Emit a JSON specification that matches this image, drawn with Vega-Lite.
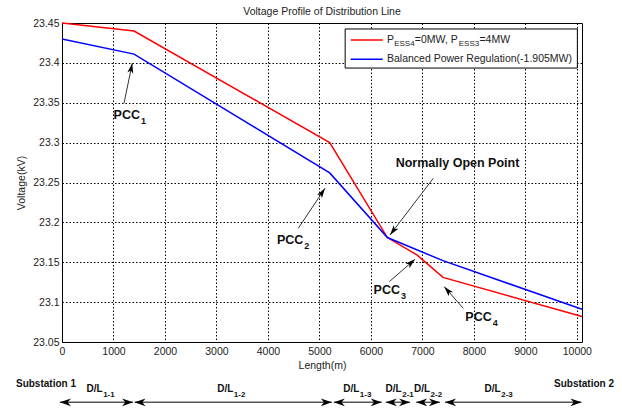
{
  "$schema": "https://vega.github.io/schema/vega-lite/v6.json",
  "width": 520,
  "height": 319,
  "autosize": {"type": "none"},
  "padding": {"left": 62, "top": 23, "right": 40, "bottom": 70},
  "background": "white",
  "title": {"text": "Voltage Profile of Distribution Line", "fontSize": 10.5, "fontWeight": "normal", "color": "#222", "offset": 1, "anchor": "middle"},
  "config": {
    "font": "Liberation Sans",
    "view": {"stroke": "black", "strokeWidth": 1},
    "axis": {
      "grid": true, "gridColor": "black", "gridOpacity": 1, "gridWidth": 1, "gridDash": [1.5, 2],
      "ticks": false, "domain": false,
      "labelFontSize": 10.5, "labelColor": "#222", "labelFlush": false, "labelOverlap": false,
      "titleFontSize": 10.5, "titleFontWeight": "normal", "titleColor": "#222"
    }
  },
  "datasets": {
    "profile": [
      {"series": "PESS4=0MW, PESS3=4MW", "length": 0, "voltage": 23.45},
      {"series": "PESS4=0MW, PESS3=4MW", "length": 1400, "voltage": 23.44},
      {"series": "PESS4=0MW, PESS3=4MW", "length": 5200, "voltage": 23.30},
      {"series": "PESS4=0MW, PESS3=4MW", "length": 6320, "voltage": 23.181},
      {"series": "PESS4=0MW, PESS3=4MW", "length": 6900, "voltage": 23.159},
      {"series": "PESS4=0MW, PESS3=4MW", "length": 7400, "voltage": 23.131},
      {"series": "PESS4=0MW, PESS3=4MW", "length": 10100, "voltage": 23.082},
      {"series": "Balanced Power Regulation(-1.905MW)", "length": 0, "voltage": 23.43},
      {"series": "Balanced Power Regulation(-1.905MW)", "length": 1400, "voltage": 23.411},
      {"series": "Balanced Power Regulation(-1.905MW)", "length": 5200, "voltage": 23.262},
      {"series": "Balanced Power Regulation(-1.905MW)", "length": 6320, "voltage": 23.181},
      {"series": "Balanced Power Regulation(-1.905MW)", "length": 7400, "voltage": 23.152},
      {"series": "Balanced Power Regulation(-1.905MW)", "length": 10100, "voltage": 23.091}
    ],
    "pcc": [
      {"label": "PCC", "sub": "1", "x": 1515, "y": 23.3346},
      {"label": "PCC", "sub": "2", "x": 4687, "y": 23.1779},
      {"label": "PCC", "sub": "3", "x": 6565, "y": 23.1152},
      {"label": "PCC", "sub": "4", "x": 8346, "y": 23.0817}
    ],
    "arrows": [
      {"name": "PCC1", "x1": 1204, "y1": 23.3493, "x2": 1365, "y2": 23.3995},
      {"name": "PCC2", "x1": 4590, "y1": 23.1926, "x2": 5108, "y2": 23.2427},
      {"name": "NOP", "x1": 7212, "y1": 23.2553, "x2": 6371, "y2": 23.1842},
      {"name": "PCC3", "x1": 6357, "y1": 23.1256, "x2": 6856, "y2": 23.1537},
      {"name": "PCC4", "x1": 7794, "y1": 23.0922, "x2": 7425, "y2": 23.1193}
    ],
    "callout": [
      {"text": "Normally Open Point", "x": 7682, "y": 23.274}
    ],
    "sections": [
      {"label": "D/L", "sub": "1-1", "start": -40, "end": 1380, "lx": 790},
      {"label": "D/L", "sub": "1-2", "start": 1410, "end": 5240, "lx": 3327},
      {"label": "D/L", "sub": "1-3", "start": 5280, "end": 6210, "lx": 5774},
      {"label": "D/L", "sub": "2-1", "start": 6290, "end": 6760, "lx": 6598},
      {"label": "D/L", "sub": "2-2", "start": 6880, "end": 7340, "lx": 7148},
      {"label": "D/L", "sub": "2-3", "start": 7440, "end": 10090, "lx": 8521}
    ],
    "stations": [
      {"text": "Substation 1", "x": -311},
      {"text": "Substation 2", "x": 10139}
    ]
  },
  "layer": [
    {
      "data": {"name": "profile"},
      "mark": {"type": "line", "strokeWidth": 1.5, "clip": false},
      "encoding": {
        "x": {"field": "length", "type": "quantitative", "scale": {"domain": [0, 10100], "nice": false, "zero": false},
              "axis": {"title": "Length(m)", "values": [0, 1000, 2000, 3000, 4000, 5000, 6000, 7000, 8000, 9000, 10000], "tickCount": 30, "format": "d", "labelPadding": 4, "titlePadding": 4}},
        "y": {"field": "voltage", "type": "quantitative", "scale": {"domain": [23.05, 23.45], "nice": false, "zero": false},
              "axis": {"title": "Voltage(kV)", "values": [23.05, 23.1, 23.15, 23.2, 23.25, 23.3, 23.35, 23.4, 23.45], "tickCount": 30, "format": ".2~f", "labelPadding": 3, "titlePadding": 6}},
        "color": {"field": "series", "type": "nominal", "sort": null,
                  "scale": {"domain": ["PESS4=0MW, PESS3=4MW", "Balanced Power Regulation(-1.905MW)"], "range": ["#ff0000", "#0000ff"]}, "legend": null},
        "order": {"field": "length", "type": "quantitative"}
      }
    },
    {
      "data": {"name": "arrows"},
      "mark": {"type": "rule", "color": "#333", "strokeWidth": 1},
      "encoding": {
        "x": {"field": "x1", "type": "quantitative"},
        "y": {"field": "y1", "type": "quantitative"},
        "x2": {"field": "x2"},
        "y2": {"field": "y2"}
      }
    },
    {
      "data": {"name": "arrows"},
      "transform": [{"filter": "datum.name == 'PCC1'"}],
      "mark": {"type": "point", "shape": "M0,0L-0.3,1L0,0.75L0.3,1Z", "size": 400, "filled": true, "color": "black", "opacity": 1, "angle": 11.7},
      "encoding": {"x": {"field": "x2", "type": "quantitative"}, "y": {"field": "y2", "type": "quantitative"}}
    },
    {
      "data": {"name": "arrows"},
      "transform": [{"filter": "datum.name == 'PCC2'"}],
      "mark": {"type": "point", "shape": "M0,0L-0.3,1L0,0.75L0.3,1Z", "size": 400, "filled": true, "color": "black", "opacity": 1, "angle": 33.7},
      "encoding": {"x": {"field": "x2", "type": "quantitative"}, "y": {"field": "y2", "type": "quantitative"}}
    },
    {
      "data": {"name": "arrows"},
      "transform": [{"filter": "datum.name == 'NOP'"}],
      "mark": {"type": "point", "shape": "M0,0L-0.3,1L0,0.75L0.3,1Z", "size": 400, "filled": true, "color": "black", "opacity": 1, "angle": 217.4},
      "encoding": {"x": {"field": "x2", "type": "quantitative"}, "y": {"field": "y2", "type": "quantitative"}}
    },
    {
      "data": {"name": "arrows"},
      "transform": [{"filter": "datum.name == 'PCC3'"}],
      "mark": {"type": "point", "shape": "M0,0L-0.3,1L0,0.75L0.3,1Z", "size": 400, "filled": true, "color": "black", "opacity": 1, "angle": 48.9},
      "encoding": {"x": {"field": "x2", "type": "quantitative"}, "y": {"field": "y2", "type": "quantitative"}}
    },
    {
      "data": {"name": "arrows"},
      "transform": [{"filter": "datum.name == 'PCC4'"}],
      "mark": {"type": "point", "shape": "M0,0L-0.3,1L0,0.75L0.3,1Z", "size": 400, "filled": true, "color": "black", "opacity": 1, "angle": 318.7},
      "encoding": {"x": {"field": "x2", "type": "quantitative"}, "y": {"field": "y2", "type": "quantitative"}}
    },
    {
      "data": {"name": "pcc"},
      "mark": {"type": "text", "align": "right", "baseline": "middle", "fontSize": 12.5, "fontWeight": "bold", "color": "#111"},
      "encoding": {"x": {"field": "x", "type": "quantitative"}, "y": {"field": "y", "type": "quantitative"}, "text": {"field": "label"}}
    },
    {
      "data": {"name": "pcc"},
      "mark": {"type": "text", "align": "left", "baseline": "middle", "fontSize": 9, "fontWeight": "bold", "color": "#111", "dx": 1, "dy": 6},
      "encoding": {"x": {"field": "x", "type": "quantitative"}, "y": {"field": "y", "type": "quantitative"}, "text": {"field": "sub"}}
    },
    {
      "data": {"name": "callout"},
      "mark": {"type": "text", "align": "center", "baseline": "middle", "fontSize": 12.5, "fontWeight": "bold", "color": "#111"},
      "encoding": {"x": {"field": "x", "type": "quantitative"}, "y": {"field": "y", "type": "quantitative"}, "text": {"field": "text"}}
    },
    {
      "data": {"values": [{"item": "legend box"}]},
      "mark": {"type": "rect", "fill": "white", "stroke": "black", "strokeWidth": 1},
      "encoding": {
        "x": {"datum": 5500, "type": "quantitative"}, "x2": {"datum": 10010},
        "y": {"datum": 23.4425, "type": "quantitative"}, "y2": {"datum": 23.3935}
      }
    },
    {
      "data": {"values": [{"item": "red sample"}]},
      "mark": {"type": "rule", "color": "#ff0000", "strokeWidth": 1.5},
      "encoding": {"x": {"datum": 5607, "type": "quantitative"}, "x2": {"datum": 6228}, "y": {"datum": 23.4287, "type": "quantitative"}}
    },
    {
      "data": {"values": [{"item": "blue sample"}]},
      "mark": {"type": "rule", "color": "#0000ff", "strokeWidth": 1.5},
      "encoding": {"x": {"datum": 5607, "type": "quantitative"}, "x2": {"datum": 6228}, "y": {"datum": 23.4045, "type": "quantitative"}}
    },
    {
      "data": {"values": [{"t": "P"}]},
      "mark": {"type": "text", "align": "left", "baseline": "middle", "fontSize": 10.5, "color": "#222"},
      "encoding": {"x": {"datum": 6312, "type": "quantitative"}, "y": {"datum": 23.4287, "type": "quantitative"}, "text": {"field": "t"}}
    },
    {
      "data": {"values": [{"t": "ESS4"}]},
      "mark": {"type": "text", "align": "left", "baseline": "middle", "fontSize": 8, "color": "#222", "dx": 7.2, "dy": 4.5},
      "encoding": {"x": {"datum": 6312, "type": "quantitative"}, "y": {"datum": 23.4287, "type": "quantitative"}, "text": {"field": "t"}}
    },
    {
      "data": {"values": [{"t": "=0MW, P"}]},
      "mark": {"type": "text", "align": "left", "baseline": "middle", "fontSize": 10.5, "color": "#222", "dx": 27.9},
      "encoding": {"x": {"datum": 6312, "type": "quantitative"}, "y": {"datum": 23.4287, "type": "quantitative"}, "text": {"field": "t"}}
    },
    {
      "data": {"values": [{"t": "ESS3"}]},
      "mark": {"type": "text", "align": "left", "baseline": "middle", "fontSize": 8, "color": "#222", "dx": 71.8, "dy": 4.5},
      "encoding": {"x": {"datum": 6312, "type": "quantitative"}, "y": {"datum": 23.4287, "type": "quantitative"}, "text": {"field": "t"}}
    },
    {
      "data": {"values": [{"t": "=4MW"}]},
      "mark": {"type": "text", "align": "left", "baseline": "middle", "fontSize": 10.5, "color": "#222", "dx": 92.5},
      "encoding": {"x": {"datum": 6312, "type": "quantitative"}, "y": {"datum": 23.4287, "type": "quantitative"}, "text": {"field": "t"}}
    },
    {
      "data": {"values": [{"t": "Balanced Power Regulation(-1.905MW)"}]},
      "mark": {"type": "text", "align": "left", "baseline": "middle", "fontSize": 10.5, "color": "#222"},
      "encoding": {"x": {"datum": 6312, "type": "quantitative"}, "y": {"datum": 23.4045, "type": "quantitative"}, "text": {"field": "t"}}
    },
    {
      "data": {"name": "sections"},
      "mark": {"type": "rule", "color": "#555", "strokeWidth": 1.5},
      "encoding": {"x": {"field": "start", "type": "quantitative"}, "x2": {"field": "end"}, "y": {"datum": 22.9744, "type": "quantitative"}}
    },
    {
      "data": {"name": "sections"},
      "mark": {"type": "point", "shape": "M0,0L-0.35,1L0,0.7L0.35,1Z", "size": 484, "filled": true, "color": "black", "opacity": 1, "angle": 270},
      "encoding": {"x": {"field": "start", "type": "quantitative"}, "y": {"datum": 22.9744, "type": "quantitative"}}
    },
    {
      "data": {"name": "sections"},
      "mark": {"type": "point", "shape": "M0,0L-0.35,1L0,0.7L0.35,1Z", "size": 484, "filled": true, "color": "black", "opacity": 1, "angle": 90},
      "encoding": {"x": {"field": "end", "type": "quantitative"}, "y": {"datum": 22.9744, "type": "quantitative"}}
    },
    {
      "data": {"name": "sections"},
      "mark": {"type": "text", "align": "right", "baseline": "middle", "fontSize": 10, "fontWeight": "bold", "color": "#111"},
      "encoding": {"x": {"field": "lx", "type": "quantitative"}, "y": {"datum": 22.9911, "type": "quantitative"}, "text": {"field": "label"}}
    },
    {
      "data": {"name": "sections"},
      "mark": {"type": "text", "align": "left", "baseline": "middle", "fontSize": 8, "fontWeight": "bold", "color": "#111", "dx": 0.5, "dy": 6},
      "encoding": {"x": {"field": "lx", "type": "quantitative"}, "y": {"datum": 22.9911, "type": "quantitative"}, "text": {"field": "sub"}}
    },
    {
      "data": {"name": "stations"},
      "mark": {"type": "text", "align": "center", "baseline": "middle", "fontSize": 10, "fontWeight": "bold", "color": "#111"},
      "encoding": {"x": {"field": "x", "type": "quantitative"}, "y": {"datum": 22.997, "type": "quantitative"}, "text": {"field": "text"}}
    }
  ]
}
